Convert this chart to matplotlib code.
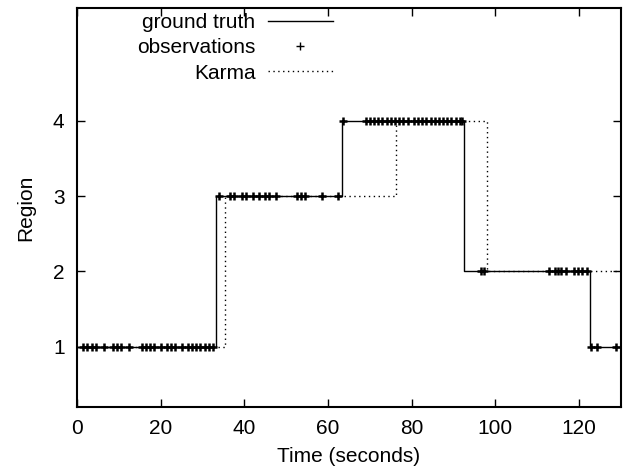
import matplotlib
matplotlib.use("Agg")
import matplotlib.pyplot as plt

# ground truth region changes (time in seconds, region entered)
truth_times = [0, 33.3, 63.3, 92.5, 122.6, 130]
truth_regions = [1, 3, 4, 2, 1, 1]

# Karma estimate
karma_times = [0, 35.4, 76.2, 98.0, 130]
karma_regions = [1, 3, 4, 2, 2]

# observations
obs_times_1 = [1.5, 2.5, 3.5, 4.5, 6.5, 8.5, 9.5, 10.5, 12.5, 15.5, 16.5, 17.5,
               18.5, 20.0, 21.5, 22.5, 23.5, 25.0, 26.5, 27.5, 28.5, 29.5,
               30.5, 31.5, 32.5]
obs_times_3 = [34.0, 36.5, 37.5, 39.5, 40.5, 42.0, 43.5, 45.0, 46.0, 47.5,
               52.5, 53.5, 54.5, 58.5, 62.5]
obs_times_4 = [63.5, 69.0, 70.0, 71.0, 72.0, 73.0, 74.0, 75.0, 76.0, 77.0, 78.0,
               79.0, 80.5, 81.5, 82.5, 83.5, 84.5, 85.5, 86.5, 87.5, 88.5,
               89.5, 90.5, 91.5, 92.0]
obs_times_2 = [96.5, 97.3, 112.8, 114.2, 115.0, 115.6, 117.0, 118.8, 119.8,
               120.7, 122.0]
obs_times_1b = [122.8, 124.3, 128.8]

obs_times = obs_times_1 + obs_times_3 + obs_times_4 + obs_times_2 + obs_times_1b
obs_regions = ([1] * len(obs_times_1) + [3] * len(obs_times_3) + [4] * len(obs_times_4)
               + [2] * len(obs_times_2) + [1] * len(obs_times_1b))

plt.rcParams["font.family"] = ["Liberation Sans", "DejaVu Sans"]
plt.rcParams["font.size"] = 15

fig = plt.figure(figsize=(6.24, 4.71), dpi=100)
ax = fig.add_axes([0.1234, 0.1359, 0.8716, 0.8471])

ax.step(truth_times, truth_regions, where="post", color="black", linewidth=1.0,
        label="ground truth")
ax.plot(obs_times, obs_regions, linestyle="none", marker="+", color="black",
        markersize=6, markeredgewidth=1.8, label="observations")
ax.step(karma_times, karma_regions, where="post", color="black", linewidth=1.0,
        linestyle=(0, (1, 2.5)), label="Karma")

ax.set_xlim(0, 130)
ax.set_ylim(0.2, 5.5)
ax.set_xticks([0, 20, 40, 60, 80, 100, 120])
ax.set_yticks([1, 2, 3, 4])
ax.tick_params(direction="in", top=True, right=True, length=6, width=1.0, pad=9)
for spine in ax.spines.values():
    spine.set_linewidth(1.5)

ax.set_xlabel("Time (seconds)", labelpad=6)
ax.set_ylabel("Region", labelpad=13)

leg = ax.legend(loc="upper right", bbox_to_anchor=(0.533, 0.972),
                bbox_transform=fig.transFigure, frameon=False, markerfirst=False,
                handlelength=3.1, handletextpad=0.6, labelspacing=0.3,
                borderaxespad=0, borderpad=0)
for h in leg.legend_handles:
    if h.get_label() == "observations":
        h.set_markeredgewidth(1.0)

fig.savefig("out.png", dpi=100)
